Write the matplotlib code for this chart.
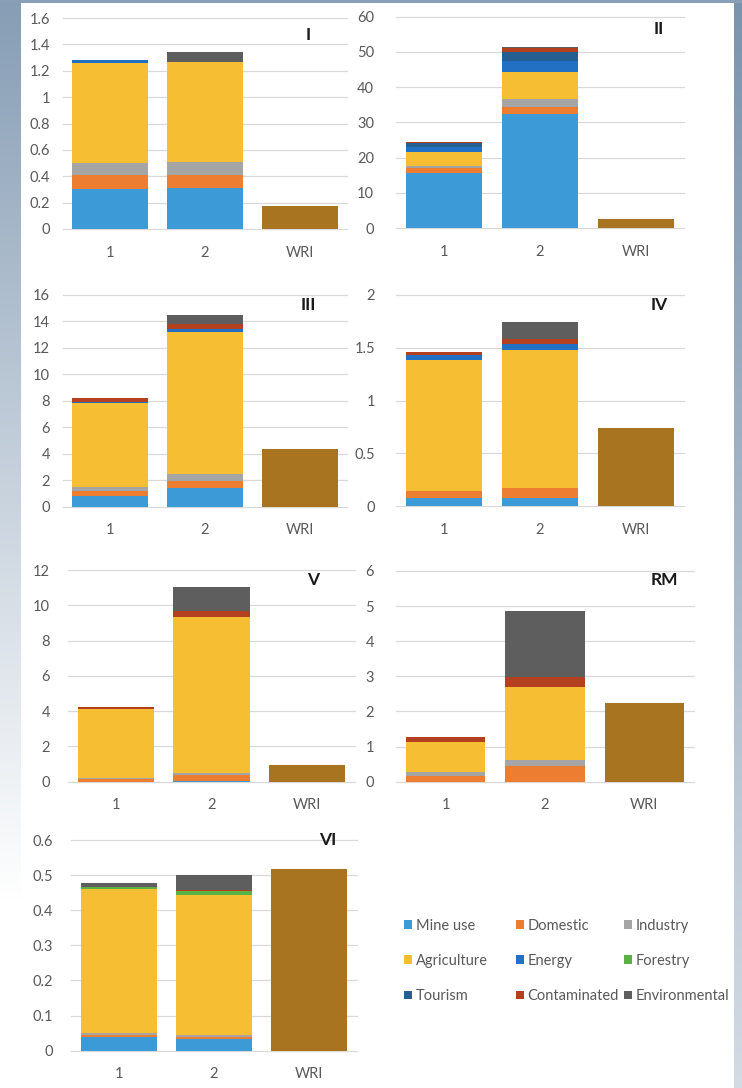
import numpy as np
import matplotlib
matplotlib.use("Agg")
import matplotlib.pyplot as plt
from matplotlib.patches import Patch

plt.rcParams['font.family'] = ['Lato', 'DejaVu Sans']

W, H = 742, 1088

# ---- data -------------------------------------------------------------
SERIES = ["Mine use", "Domestic", "Industry", "Agriculture", "Energy",
          "Forestry", "Tourism", "Contaminated", "Environmental"]
COLORS = ["#3C9BD7", "#ED7D31", "#A5A5A5", "#F6BE32", "#2270C4",
          "#5DB043", "#255E91", "#B3401E", "#5E5E5E"]
WRI_COLOR = "#A8741F"
CATEGORIES = ["1", "2", "WRI"]

# segment sizes, in SERIES order, for cases 1 and 2; WRI is a single value
I_case1 = [0.30, 0.11, 0.09, 0.76, 0.02, 0.0, 0.0, 0.0, 0.0]
I_case2 = [0.31, 0.10, 0.10, 0.76, 0.0, 0.0, 0.0, 0.0, 0.07]
I_wri = 0.175

II_case1 = [15.5, 1.5, 0.6, 3.9, 1.6, 0.0, 1.0, 0.4, 0.0]
II_case2 = [32.4, 2.1, 2.1, 7.6, 3.3, 0.0, 2.4, 1.2, 0.4]
II_wri = 2.6

III_case1 = [0.83, 0.36, 0.28, 6.33, 0.15, 0.0, 0.0, 0.25, 0.0]
III_case2 = [1.44, 0.50, 0.51, 10.75, 0.20, 0.0, 0.0, 0.40, 0.70]
III_wri = 4.35

IV_case1 = [0.073, 0.072, 0.0, 1.235, 0.05, 0.0, 0.0, 0.03, 0.0]
IV_case2 = [0.079, 0.091, 0.0, 1.31, 0.06, 0.0, 0.0, 0.04, 0.16]
IV_wri = 0.74

V_case1 = [0.0, 0.15, 0.08, 3.87, 0.0, 0.0, 0.0, 0.12, 0.0]
V_case2 = [0.05, 0.33, 0.14, 8.80, 0.0, 0.0, 0.0, 0.36, 1.37]
V_wri = 0.95

RM_case1 = [0.0, 0.17, 0.10, 0.87, 0.0, 0.0, 0.0, 0.14, 0.0]
RM_case2 = [0.0, 0.46, 0.16, 2.07, 0.0, 0.0, 0.0, 0.30, 1.88]
RM_wri = 2.25

VI_case1 = [0.038, 0.008, 0.004, 0.411, 0.0, 0.006, 0.0, 0.0, 0.010]
VI_case2 = [0.032, 0.008, 0.006, 0.398, 0.0, 0.010, 0.0, 0.003, 0.042]
VI_wri = 0.517

# ---- layout (pixels: left, right, top, bottom of plot area) -----------
panels = [
    ("I",   I_case1,   I_case2,   I_wri,   1.6, 0.2, (63, 347, 18, 229),    13, (308, 35)),
    ("II",  II_case1,  II_case2,  II_wri,  60,  10,  (396, 684, 16.7, 228), 22, (659, 29)),
    ("III", III_case1, III_case2, III_wri, 16,  2,   (63, 347, 295, 506.7), 13, (308, 305)),
    ("IV",  IV_case1,  IV_case2,  IV_wri,  2,   0.5, (396, 684, 295, 506),  21, (659, 305)),
    ("V",   V_case1,   V_case2,   V_wri,   12,  2,   (68, 355, 570, 781.7), 18, (313, 580)),
    ("RM",  RM_case1,  RM_case2,  RM_wri,  6,   1,   (396, 694, 571, 781.7), 22, (664, 580)),
    ("VI",  VI_case1,  VI_case2,  VI_wri,  0.6, 0.1, (71, 357, 840, 1050.7), 18, (328, 840)),
]

fig = plt.figure(figsize=(W / 100, H / 100), dpi=100)

# ---- background: blue-grey frame fading to white ---------------------
yy, xx = np.mgrid[0:H, 0:W].astype(float)
alpha = np.zeros((H, W))
left = xx < 21
alpha[left] = np.clip(0.82 * (1 - yy[left] / 900.0), 0, 1)
right = xx >= 734
alpha[right] = 0.9 - 0.6 * yy[right] / H
top = yy < 3
alpha[top] = 0.8
base = np.array([108, 136, 165]) / 255.0
bg = (1 - alpha[..., None]) * 1.0 + alpha[..., None] * base
fig.figimage(bg, xo=0, yo=0, origin='upper', zorder=-10)

TICK_COLOR = "#595959"
GRID_COLOR = "#D9D9D9"

for name, c1, c2, wri, ymax, ystep, (l, r, t, b), pad, (tx, ty) in panels:
    ax = fig.add_axes([l / W, 1 - b / H, (r - l) / W, (b - t) / H])
    ax.set_facecolor("none")
    bottoms = np.zeros(2)
    for k, series in enumerate(SERIES):
        vals = np.array([c1[k], c2[k]])
        ax.bar([0, 1], vals, bottom=bottoms, width=0.8,
               color=COLORS[k], linewidth=0, zorder=3)
        bottoms = bottoms + vals
    ax.bar([2], [wri], width=0.8, color=WRI_COLOR, linewidth=0, zorder=3)

    ax.set_xlim(-0.5, 2.5)
    ax.set_ylim(0, ymax)
    ticks = np.arange(0, ymax + ystep / 2, ystep)
    ax.set_yticks(ticks)
    ax.set_yticklabels([f"{v:g}" for v in ticks])
    ax.set_xticks([0, 1, 2])
    ax.set_xticklabels(CATEGORIES)
    for s in ax.spines.values():
        s.set_visible(False)
    ax.tick_params(axis='both', length=0, labelsize=10.5, colors=TICK_COLOR)
    ax.tick_params(axis='y', pad=pad * 0.72)
    ax.tick_params(axis='x', pad=12)
    for v in ticks:
        ax.axhline(v, color=GRID_COLOR, linewidth=0.9, zorder=1, clip_on=False)

    fig.text(tx / W, 1 - ty / H, name, ha='center', va='center',
             fontsize=12.5, fontweight='bold', color="#1a1a1a")

# ---- legend: three columns ------------------------------------------
handles = [Patch(facecolor=c, edgecolor='none') for c in COLORS]
col_x = [404, 516, 624]
for ci, x in enumerate(col_x):
    idx = [ci, ci + 3, ci + 6]
    fig.legend([handles[i] for i in idx], [SERIES[i] for i in idx],
               loc='center left', bbox_to_anchor=(x / W, 1 - 961 / H),
               frameon=False, fontsize=10.5, labelcolor=TICK_COLOR,
               handlelength=0.55, handleheight=0.55, handletextpad=0.25,
               labelspacing=1.45, borderpad=0, borderaxespad=0)

fig.savefig("out.png", dpi=100)
